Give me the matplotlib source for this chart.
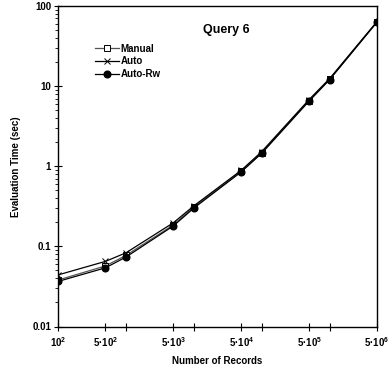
import numpy as np
import matplotlib.pyplot as plt
from matplotlib.ticker import NullFormatter, LogLocator

plt.rcParams['font.family'] = ['Liberation Sans', 'DejaVu Sans']
plt.rcParams['font.weight'] = 'bold'
plt.rcParams['mathtext.fontset'] = 'custom'
plt.rcParams['mathtext.rm'] = 'Liberation Sans:bold'
plt.rcParams['mathtext.bf'] = 'Liberation Sans:bold'
plt.rcParams['mathtext.it'] = 'Liberation Sans:bold'

records = [1e2, 5e2, 1e3, 5e3, 1e4, 5e4, 1e5, 5e5, 1e6, 5e6]
manual = [0.038, 0.057, 0.077, 0.185, 0.31, 0.86, 1.47, 6.6, 12.2, 63]
auto = [0.044, 0.065, 0.083, 0.197, 0.32, 0.89, 1.52, 6.8, 12.4, 64]
auto_rw = [0.0365, 0.054, 0.0735, 0.18, 0.30, 0.85, 1.45, 6.5, 12.0, 63]

tick_labels = ['10$^{2}$', '5\u00b710$^{2}$', '', '5\u00b710$^{3}$', '',
               '5\u00b710$^{4}$', '', '5\u00b710$^{5}$', '', '5\u00b710$^{6}$']

fig = plt.figure(figsize=(3.92, 3.74), dpi=100)
ax = fig.add_axes([58 / 392, 1 - 326.5 / 374, 319 / 392, 320.5 / 374])

ax.plot(records, manual, '-', color='#555555', lw=0.9, marker='s', ms=4.5,
        mfc='white', mec='black', mew=0.7, label='Manual')
ax.plot(records, auto, '-', color='black', lw=0.9, marker='x', ms=5,
        mew=0.7, label='Auto')
ax.plot(records, auto_rw, '-', color='black', lw=0.9, marker='o', ms=4.8,
        mfc='black', label='Auto-Rw')

ax.set_xscale('log')
ax.set_yscale('log')
ax.set_xlim(1e2, 5e6)
ax.set_ylim(0.01, 100)

ax.set_xticks(records)
ax.set_xticklabels(tick_labels, fontsize=7, fontweight='bold')
ax.xaxis.set_minor_locator(plt.NullLocator())
ax.tick_params(axis='x', which='major', direction='inout', length=6, width=0.8, pad=3)

ax.set_yticks([0.01, 0.1, 1, 10, 100])
ax.set_yticklabels(['0.01', '0.1', '1', '10', '100'], fontsize=7, fontweight='bold')
ax.yaxis.set_minor_locator(LogLocator(base=10, subs=np.arange(2, 10)))
ax.yaxis.set_minor_formatter(NullFormatter())
ax.tick_params(axis='y', which='major', direction='inout', length=6, width=0.8, pad=2)
ax.tick_params(axis='y', which='minor', direction='out', length=2.5, width=0.6)

for s in ax.spines.values():
    s.set_linewidth(1)

ax.set_xlabel('Number of Records', fontsize=7, fontweight='bold', labelpad=5)
ax.set_ylabel('Evaluation Time (sec)', fontsize=7, fontweight='bold', labelpad=8)

ax.text(0.527, 0.925, 'Query 6', transform=ax.transAxes, fontsize=9,
        fontweight='bold', ha='center', va='center')

leg = ax.legend(loc='upper left', bbox_to_anchor=(0.105, 0.895), frameon=False,
                fontsize=7, handlelength=2.4, handletextpad=0.2,
                labelspacing=0.3, borderaxespad=0)

fig.savefig('out.png', dpi=100)
